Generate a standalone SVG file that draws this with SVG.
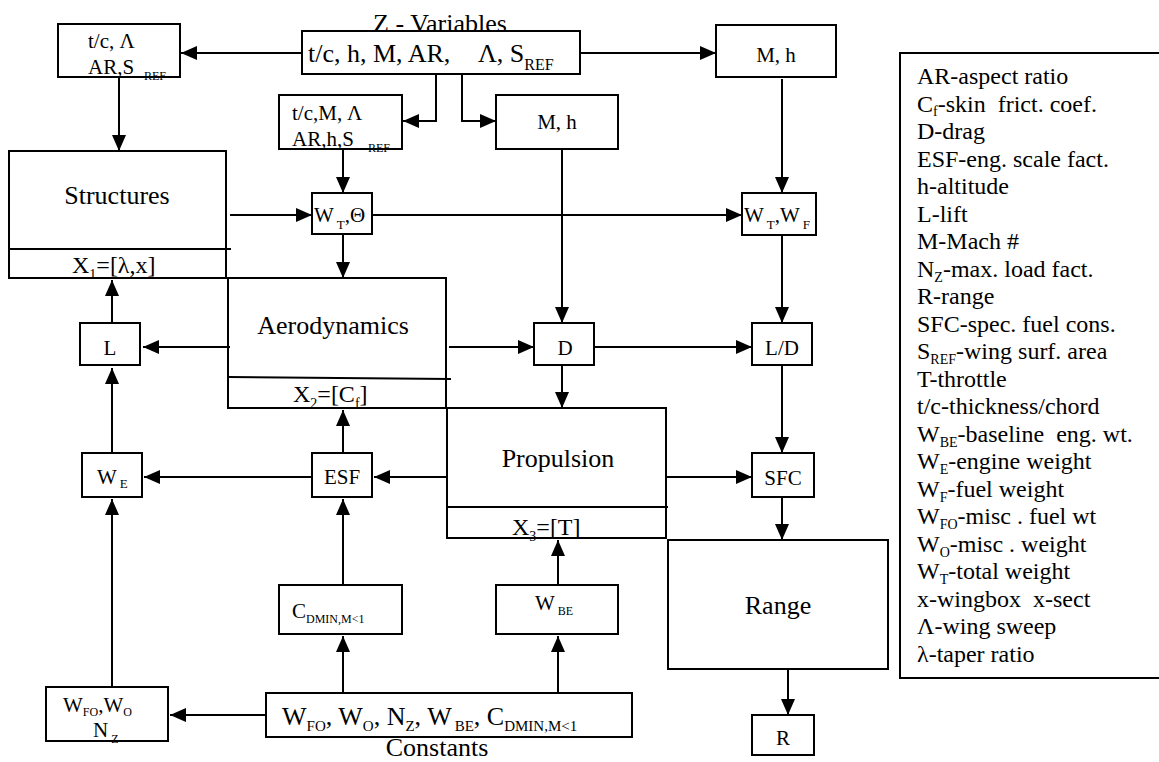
<svg xmlns="http://www.w3.org/2000/svg" width="1159" height="762" viewBox="0 0 1159 762">
<style>
text { font-family: "Liberation Serif", "Times New Roman", serif; fill: #000; }
.box { fill: none; stroke: #000; stroke-width: 2; }
.ln { fill: none; stroke: #000; stroke-width: 2; }
.arr { marker-end: url(#ah); }
.t26 { font-size: 26px; }
.t24 { font-size: 24px; }
.t21 { font-size: 21px; }
.leg { font-size: 24px; white-space: pre; }
.mid { text-anchor: middle; }
</style>
<defs>
<marker id="ah" markerUnits="userSpaceOnUse" markerWidth="16" markerHeight="14" refX="16" refY="7" orient="auto">
<path d="M0,0 L16,7 L0,14 z" fill="#000"/>
</marker>
</defs>
<rect x="0" y="0" width="1159" height="762" fill="#fff"/>

<g id="connectors">
<line class="ln arr" x1="302" y1="53" x2="181" y2="53"/>
<line class="ln arr" x1="119" y1="77" x2="119" y2="151"/>
<polyline class="ln arr" points="436,74 436,121 403,121"/>
<polyline class="ln arr" points="462,74 462,121 496,121"/>
<line class="ln arr" x1="580" y1="53" x2="716" y2="53"/>
<line class="ln arr" x1="782" y1="79" x2="782" y2="193"/>
<line class="ln arr" x1="343" y1="149" x2="343" y2="193"/>
<line class="ln arr" x1="562" y1="149" x2="562" y2="323"/>
<line class="ln arr" x1="230" y1="215" x2="312" y2="215"/>
<line class="ln arr" x1="372" y1="215" x2="742" y2="215"/>
<line class="ln arr" x1="343" y1="234" x2="343" y2="278"/>
<line class="ln arr" x1="230" y1="347" x2="143" y2="347"/>
<line class="ln arr" x1="112" y1="323" x2="112" y2="280"/>
<line class="ln arr" x1="449" y1="347" x2="534" y2="347"/>
<line class="ln arr" x1="594" y1="347" x2="752" y2="347"/>
<line class="ln arr" x1="782" y1="235" x2="782" y2="323"/>
<line class="ln arr" x1="562" y1="365" x2="562" y2="408"/>
<line class="ln arr" x1="782" y1="365" x2="782" y2="453"/>
<line class="ln arr" x1="666" y1="477" x2="752" y2="477"/>
<line class="ln arr" x1="448" y1="477" x2="374" y2="477"/>
<line class="ln arr" x1="312" y1="477" x2="144" y2="477"/>
<line class="ln arr" x1="112" y1="453" x2="112" y2="368"/>
<line class="ln arr" x1="343" y1="453" x2="343" y2="410"/>
<line class="ln arr" x1="782" y1="497" x2="782" y2="540"/>
<line class="ln arr" x1="788" y1="669" x2="788" y2="715"/>
<line class="ln arr" x1="343" y1="585" x2="343" y2="499"/>
<line class="ln arr" x1="558" y1="585" x2="558" y2="540"/>
<line class="ln arr" x1="343" y1="693" x2="343" y2="636"/>
<line class="ln arr" x1="558" y1="693" x2="558" y2="636"/>
<line class="ln arr" x1="266" y1="715" x2="170" y2="715"/>
<line class="ln arr" x1="112" y1="687" x2="112" y2="499"/>
</g>

<g id="zvars">
<rect class="box" x="302" y="31" width="278" height="43"/>
<text class="t26 mid" x="440" y="32">Z - Variables</text>
<text class="t26" x="308" y="62">t/c, h, M, AR,<tspan x="478">Λ, S</tspan><tspan font-size="16" dy="8">REF</tspan></text>
</g>

<g id="in-struct">
<rect class="box" x="58" y="24" width="122" height="53"/>
<text class="t21" x="88" y="48">t/c, Λ</text>
<text class="t21" x="88" y="74">AR,S<tspan x="144" y="80" font-size="12">REF</tspan></text>
</g>

<g id="in-wt">
<rect class="box" x="279" y="95" width="123" height="54"/>
<text class="t21" x="292" y="120">t/c,M,<tspan x="347">Λ</tspan></text>
<text class="t21" x="292" y="146">AR,h,S<tspan x="368" y="152" font-size="12">REF</tspan></text>
</g>

<g id="mh-mid">
<rect class="box" x="496" y="95" width="122" height="54"/>
<text class="t21 mid" x="557" y="129">M, h</text>
</g>

<g id="mh-right">
<rect class="box" x="716" y="25" width="120" height="52"/>
<text class="t21 mid" x="776" y="62">M, h</text>
</g>

<g id="structures">
<rect class="box" x="9" y="151" width="217" height="127"/>
<line class="ln" x1="9" y1="249" x2="231" y2="249"/>
<text class="t26 mid" x="117" y="204">Structures</text>
<text class="t24" x="72" y="273">X<tspan font-size="14" dy="6">1</tspan><tspan dy="-6">=[λ,x]</tspan></text>
</g>

<g id="wt-theta">
<rect class="box" x="312" y="193" width="60" height="41"/>
<text class="t21" x="314" y="222">W<tspan font-size="13" dx="3" dy="7">T</tspan><tspan dy="-7">,Θ</tspan></text>
</g>

<g id="wt-wf">
<rect class="box" x="742" y="193" width="74" height="42"/>
<text class="t21" x="744" y="222">W<tspan font-size="13" dx="3" dy="7">T</tspan><tspan dy="-7">,W</tspan><tspan font-size="13" dx="3" dy="7">F</tspan></text>
</g>

<g id="aero">
<rect class="box" x="228" y="278" width="218" height="130"/>
<line class="ln" x1="228" y1="377" x2="451" y2="379"/>
<text class="t26 mid" x="333" y="334">Aerodynamics</text>
<text class="t24" x="293" y="402">X<tspan font-size="14" dy="6">2</tspan><tspan dy="-6">=[C</tspan><tspan font-size="14" dy="6">f</tspan><tspan dy="-6">]</tspan></text>
</g>

<g id="lift">
<rect class="box" x="80" y="323" width="60" height="42"/>
<text class="t21 mid" x="110" y="355">L</text>
</g>

<g id="drag">
<rect class="box" x="534" y="323" width="60" height="42"/>
<text class="t21 mid" x="565" y="355">D</text>
</g>

<g id="ld">
<rect class="box" x="752" y="323" width="60" height="42"/>
<text class="t21 mid" x="782" y="355">L/D</text>
</g>

<g id="propulsion">
<rect class="box" x="447" y="408" width="219" height="130"/>
<line class="ln" x1="447" y1="507" x2="668" y2="507"/>
<text class="t26 mid" x="558" y="467">Propulsion</text>
<text class="t24" x="512" y="535">X<tspan font-size="14" dy="6">3</tspan><tspan dy="-6">=[T]</tspan></text>
</g>

<g id="we">
<rect class="box" x="82" y="453" width="60" height="44"/>
<text class="t21" x="97" y="484">W<tspan font-size="13" dx="3" dy="4">E</tspan></text>
</g>

<g id="esf">
<rect class="box" x="312" y="453" width="60" height="44"/>
<text class="t21 mid" x="342" y="484">ESF</text>
</g>

<g id="sfc">
<rect class="box" x="752" y="453" width="62" height="44"/>
<text class="t21 mid" x="783" y="485">SFC</text>
</g>

<g id="range">
<rect class="box" x="668" y="540" width="220" height="129"/>
<text class="t26 mid" x="778" y="614">Range</text>
</g>

<g id="r">
<rect class="box" x="752" y="715" width="62" height="40"/>
<text class="t21 mid" x="783" y="745">R</text>
</g>

<g id="cdmin">
<rect class="box" x="279" y="585" width="123" height="49"/>
<text class="t21" x="292" y="618">C<tspan font-size="12" dy="5">DMIN,M&lt;1</tspan></text>
</g>

<g id="wbe">
<rect class="box" x="496" y="585" width="122" height="49"/>
<text class="t21" x="535" y="610">W<tspan font-size="12" dx="3" dy="5">BE</tspan></text>
</g>

<g id="wfo-wo-nz">
<rect class="box" x="46" y="687" width="122" height="54"/>
<text class="t21" x="63" y="712">W<tspan font-size="12" dy="4">FO</tspan><tspan dy="-4">,W</tspan><tspan font-size="12" dy="4">O</tspan></text>
<text class="t21" x="93" y="737">N<tspan font-size="12" dx="3" dy="6">Z</tspan></text>
</g>

<g id="constants">
<rect class="box" x="266" y="693" width="366" height="44"/>
<text class="t26" x="282" y="725">W<tspan font-size="15" dy="6">FO</tspan><tspan dy="-6">, W</tspan><tspan font-size="15" dy="6">O</tspan><tspan dy="-6">, N</tspan><tspan font-size="15" dy="6">Z</tspan><tspan dy="-6">, W</tspan><tspan font-size="15" dx="3" dy="6">BE</tspan><tspan dy="-6">, C</tspan><tspan font-size="15" dy="6">DMIN,M&lt;1</tspan></text>
<text class="t26 mid" x="437" y="756">Constants</text>
</g>

<g id="legend">
<rect class="box" x="900" y="53" width="270" height="625"/>
<text class="leg" x="917" y="84">AR-aspect ratio</text>
<text class="leg" x="917" y="111.5">C<tspan font-size="14" dy="4">f</tspan><tspan dy="-4">-skin  frict. coef.</tspan></text>
<text class="leg" x="917" y="139">D-drag</text>
<text class="leg" x="917" y="166.5">ESF-eng. scale fact.</text>
<text class="leg" x="917" y="194">h-altitude</text>
<text class="leg" x="917" y="221.5">L-lift</text>
<text class="leg" x="917" y="249">M-Mach #</text>
<text class="leg" x="917" y="276.5">N<tspan font-size="14" dy="5">Z</tspan><tspan dy="-5">-max. load fact.</tspan></text>
<text class="leg" x="917" y="304">R-range</text>
<text class="leg" x="917" y="331.5">SFC-spec. fuel cons.</text>
<text class="leg" x="917" y="359">S<tspan font-size="14" dy="5">REF</tspan><tspan dy="-5">-wing surf. area</tspan></text>
<text class="leg" x="917" y="386.5">T-throttle</text>
<text class="leg" x="917" y="414">t/c-thickness/chord</text>
<text class="leg" x="917" y="441.5">W<tspan font-size="14" dy="5">BE</tspan><tspan dy="-5">-baseline  eng. wt.</tspan></text>
<text class="leg" x="917" y="469">W<tspan font-size="14" dy="5">E</tspan><tspan dy="-5">-engine weight</tspan></text>
<text class="leg" x="917" y="496.5">W<tspan font-size="14" dy="5">F</tspan><tspan dy="-5">-fuel weight</tspan></text>
<text class="leg" x="917" y="524">W<tspan font-size="14" dy="5">FO</tspan><tspan dy="-5">-misc . fuel wt</tspan></text>
<text class="leg" x="917" y="551.5">W<tspan font-size="14" dy="5">O</tspan><tspan dy="-5">-misc . weight</tspan></text>
<text class="leg" x="917" y="579">W<tspan font-size="14" dy="5">T</tspan><tspan dy="-5">-total weight</tspan></text>
<text class="leg" x="917" y="606.5">x-wingbox  x-sect</text>
<text class="leg" x="917" y="634">Λ-wing sweep</text>
<text class="leg" x="917" y="661.5">λ-taper ratio</text>
</g>
</svg>
